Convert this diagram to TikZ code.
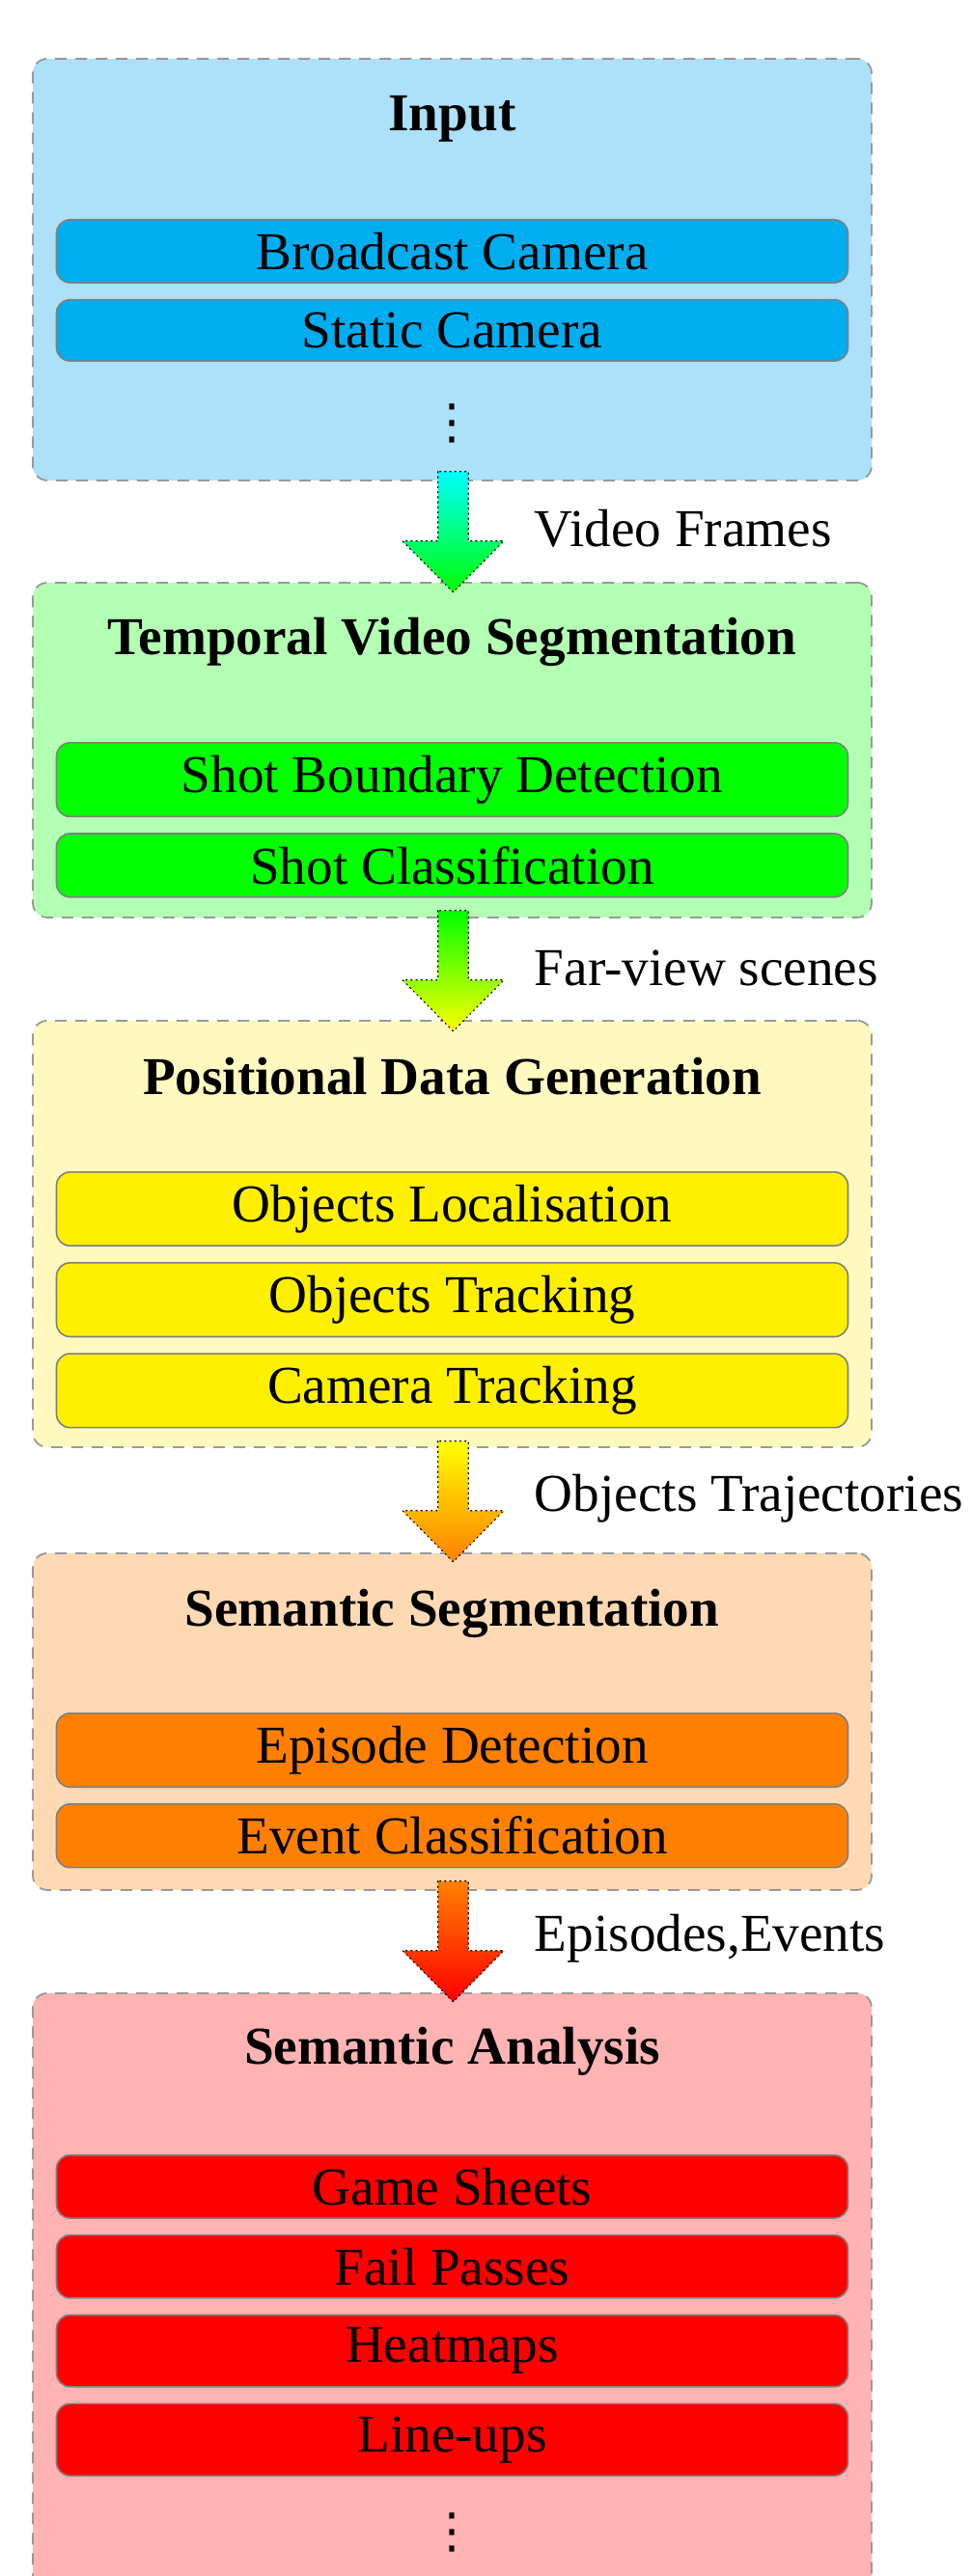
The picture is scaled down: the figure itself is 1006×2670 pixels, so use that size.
\documentclass[tikz,border=0pt]{standalone}
\usepackage{fontspec}
\setmainfont{Liberation Serif}
\newfontfamily\dotsfont{DejaVu Sans}
\usetikzlibrary{positioning,calc}
\definecolor{inBlue}{HTML}{00ADEF}
\definecolor{outBlue}{HTML}{ADE0F9}
\definecolor{inGreen}{HTML}{00FF00}
\definecolor{outGreen}{HTML}{B3FFB3}
\definecolor{inYellow}{HTML}{FFF000}
\definecolor{outYellow}{HTML}{FFF9C0}
\definecolor{inOrange}{HTML}{FF8000}
\definecolor{outOrange}{HTML}{FFD9B3}
\definecolor{inRed}{HTML}{FF0000}
\definecolor{outRed}{HTML}{FFB3B3}
\definecolor{arCyan}{HTML}{00FFFF}
\definecolor{arYellow}{HTML}{FFFF00}
\definecolor{frameGray}{HTML}{999999}
\definecolor{itemGray}{HTML}{808080}
\newcommand\blockarrow[3]{%
  \shade[arrowshape, top color=#2, bottom color=#3]
  ($(#1)+(-15.75,0)$) -- ++(0,72) -- ++(-36.75,0) -- ++(52.5,53)
  -- ++(52.5,-53) -- ++(-36.75,0) -- ++(0,-72) -- cycle;}
\newcommand\threedots{{\dotsfont\fontsize{25pt}{25pt}\selectfont ⋮}}
\begin{document}
\begin{tikzpicture}[x=0.5pt,y=-0.5pt,
  every node/.style={font=\fontsize{27.6pt}{33pt}\selectfont},
  stagebox/.style={draw=frameGray, line width=0.9pt, dash pattern=on 6pt off 4.5pt,
    rounded corners=7.5pt, minimum width=434.5pt, inner sep=0pt, anchor=north},
  stagetitle/.style={font=\fontsize{27.6pt}{33pt}\selectfont\bfseries, anchor=base, inner sep=0pt},
  stageitem/.style={draw=itemGray, line width=0.8pt, rounded corners=7pt,
    minimum width=410pt, inner xsep=0pt, inner ysep=6.6pt},
  flowlabel/.style={anchor=base west, inner sep=0pt},
  arrowshape/.style={draw=black, line width=0.6pt, dotted, line cap=round},
  vdotsnode/.style={inner sep=0pt}]
\useasboundingbox (0,0) rectangle (1006,2670);
\clip (0,0) rectangle (1006,2670);

% stage frames
\node[stagebox, fill=outBlue,   minimum height=218.5pt] (b1) at (468.5,60) {};
\node[stagebox, fill=outGreen,  minimum height=173.5pt] (b2) at (468.5,603) {};
\node[stagebox, fill=outYellow, minimum height=221pt]   (b3) at (468.5,1057) {};
\node[stagebox, fill=outOrange, minimum height=174.5pt] (b4) at (468.5,1609) {};
\node[stagebox, fill=outRed,    minimum height=312.5pt] (b5) at (468.5,2065) {};

% Input
\node[stagetitle] (t1) at (468.5,136) {Input};
\node[stageitem, fill=inBlue, anchor=north] (i11) at (468.5,227) {Broadcast Camera};
\node[stageitem, fill=inBlue, below=8pt of i11] (i12) {Static Camera};
\node[vdotsnode] (d1) at (468.5,438.5) {\threedots};

% Temporal Video Segmentation
\node[stagetitle] (t2) at (468.5,678) {Temporal Video Segmentation};
\node[stageitem, fill=inGreen, anchor=north] (i21) at (468.5,769) {Shot Boundary Detection};
\node[stageitem, fill=inGreen, below=8pt of i21] (i22) {Shot Classification};

% Positional Data Generation
\node[stagetitle] (t3) at (468.5,1134) {Positional Data Generation};
\node[stageitem, fill=inYellow, anchor=north] (i31) at (468.5,1214) {Objects Localisation};
\node[stageitem, fill=inYellow, below=8pt of i31] (i32) {Objects Tracking};
\node[stageitem, fill=inYellow, below=8pt of i32] (i33) {Camera Tracking};

% Semantic Segmentation
\node[stagetitle] (t4) at (468.5,1685) {Semantic Segmentation};
\node[stageitem, fill=inOrange, anchor=north] (i41) at (468.5,1775) {Episode Detection};
\node[stageitem, fill=inOrange, below=8pt of i41] (i42) {Event Classification};

% Semantic Analysis
\node[stagetitle] (t5) at (468.5,2139) {Semantic Analysis};
\node[stageitem, fill=inRed, anchor=north] (i51) at (468.5,2233) {Game Sheets};
\node[stageitem, fill=inRed, below=8pt of i51] (i52) {Fail Passes};
\node[stageitem, fill=inRed, below=8pt of i52] (i53) {Heatmaps};
\node[stageitem, fill=inRed, below=8pt of i53] (i54) {Line-ups};
\node[vdotsnode] (d5) at (468.5,2625) {\threedots};

% block arrows
\coordinate (a1) at ($(b1.south)+(1,-10)$);
\coordinate (a2) at ($(b2.south)+(1,-8)$);
\coordinate (a3) at ($(b3.south)+(1,-7)$);
\coordinate (a4) at ($(b4.south)+(1,-10)$);
\blockarrow{a1}{arCyan}{inGreen}
\blockarrow{a2}{inGreen}{arYellow}
\blockarrow{a3}{arYellow}{inOrange}
\blockarrow{a4}{inOrange}{inRed}
\node[flowlabel] (l1) at ($(a1)+(84,78)$) {Video Frames};
\node[flowlabel] (l2) at ($(a2)+(84,78)$) {Far-view scenes};
\node[flowlabel] (l3) at ($(a3)+(84,73)$) {Objects Trajectories};
\node[flowlabel] (l4) at ($(a4)+(84,73)$) {Episodes,Events};
\end{tikzpicture}
\end{document}
